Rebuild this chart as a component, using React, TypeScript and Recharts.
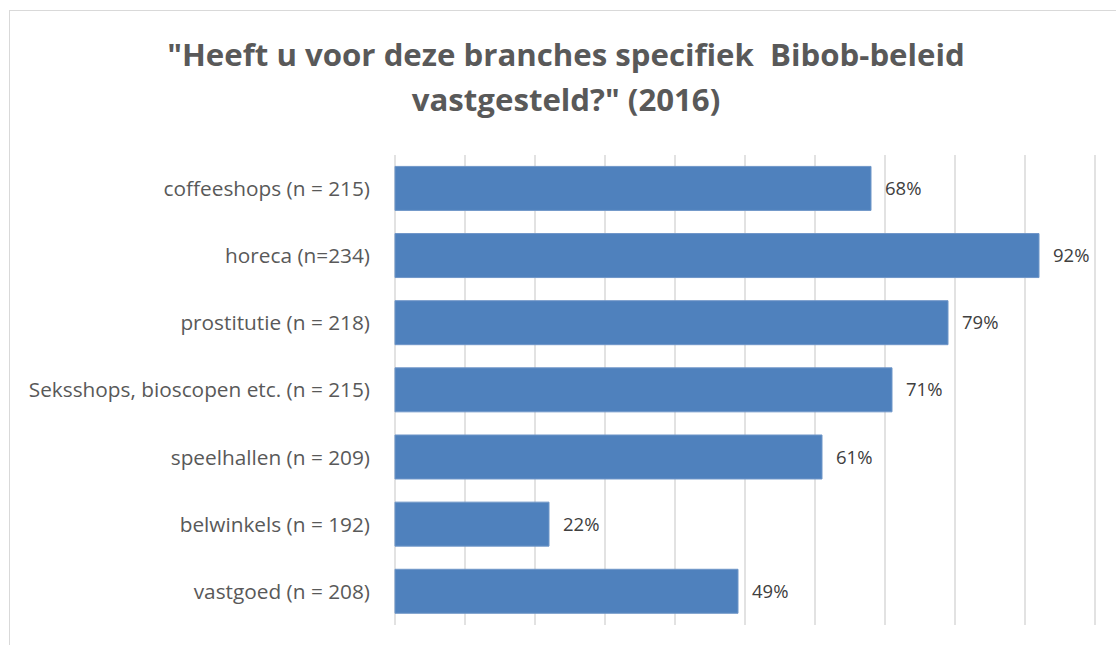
import React from 'react';
import { BarChart, Bar, XAxis, YAxis, CartesianGrid, LabelList } from 'recharts';

const categories = [
  'coffeeshops (n = 215)',
  'horeca (n=234)',
  'prostitutie (n = 218)',
  'Seksshops, bioscopen etc. (n = 215)',
  'speelhallen (n = 209)',
  'belwinkels (n = 192)',
  'vastgoed (n = 208)',
];
const percentages = [68, 92, 79, 71, 61, 22, 49];
const xTicks = [0, 10, 20, 30, 40, 50, 60, 70, 80, 90, 100];
const titleLines = ['"Heeft u voor deze branches specifiek\u00a0 Bibob-beleid', 'vastgesteld?" (2016)'];

const data = categories.map((name, i) => ({ name, value: percentages[i] }));

const FONT = '"Open Sans", Calibri, sans-serif';

const App: React.FC = () => {
  return (
    <div style={{ position: 'absolute', left: 0, top: 0, width: 1116, height: 645, background: '#fff', overflow: 'hidden', fontFamily: FONT }}>
      {/* chart frame */}
      <div style={{ position: 'absolute', left: 9, top: 10, width: 1200, height: 700, border: '1px solid #d9d9d9' }} />

      {/* title */}
      <div
        style={{
          position: 'absolute',
          left: 0,
          top: 32,
          width: 1132,
          textAlign: 'center',
          fontWeight: 700,
          fontSize: 31.2,
          lineHeight: '45px',
          color: '#595959',
        }}
      >
        {titleLines.map((t) => (
          <div key={t}>{t}</div>
        ))}
      </div>

      <div style={{ position: 'absolute', left: 0, top: 0 }}>
        <BarChart
          width={1116}
          height={645}
          data={data}
          layout="vertical"
          margin={{ top: 155, right: 21, bottom: 20, left: 0 }}
          barCategoryGap="17%"
        >
          <CartesianGrid horizontal={false} stroke="#d9d9d9" strokeWidth={1.5} />
          <XAxis
            type="number"
            domain={[0, 100]}
            ticks={xTicks}
            height={0}
            tick={() => <g />}
            axisLine={false}
            tickLine={false}
          />
          <YAxis
            type="category"
            dataKey="name"
            width={395}
            axisLine={false}
            tickLine={false}
            tickMargin={19}
            tick={{ fill: '#595959', fontSize: 20.8, fontFamily: FONT }}
          />
          <Bar dataKey="value" fill="#4f81bd" stroke="#6f96c8" strokeWidth={1} isAnimationActive={false}>
            <LabelList
              dataKey="value"
              position="right"
              offset={14}
              formatter={(v: number) => `${v}%`}
              style={{ fill: '#404040', fontSize: 18.5, fontFamily: FONT }}
            />
          </Bar>
        </BarChart>
      </div>
    </div>
  );
};

export default App;
